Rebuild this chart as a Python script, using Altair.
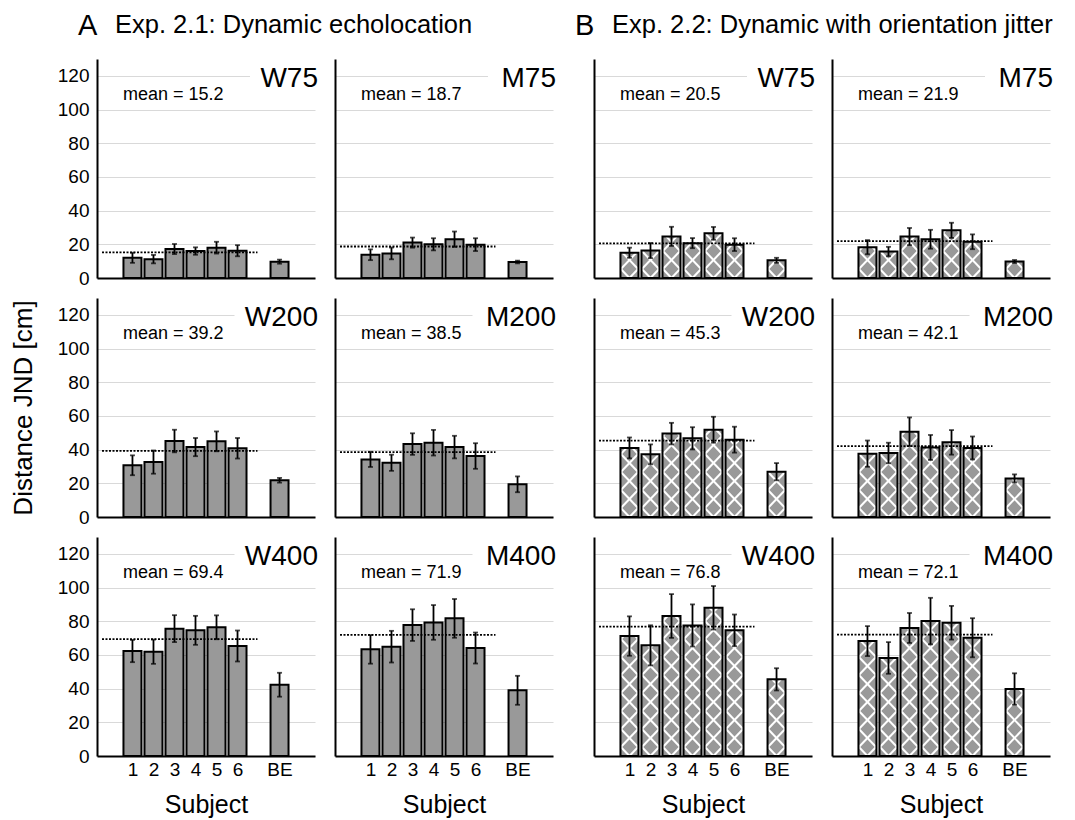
import altair as alt
import pandas as pd

# ---------------- data ----------------
subjects = ["1", "2", "3", "4", "5", "6", "BE"]
subject_pos = [1, 2, 3, 4, 5, 6, 8]

A_W75 = [12.0, 11.2, 17.2, 16.0, 18.0, 16.2, 9.7]
A_W75_err = [3.0, 2.5, 3.0, 2.2, 3.5, 3.3, 1.2]
A_M75 = [13.8, 14.6, 21.0, 20.0, 23.0, 19.8, 9.5]
A_M75_err = [3.2, 3.5, 3.0, 3.6, 4.6, 3.8, 0.8]
B_W75 = [15.0, 16.3, 24.7, 20.7, 26.5, 19.8, 10.5]
B_W75_err = [3.0, 4.5, 5.7, 3.0, 3.8, 3.8, 1.5]
B_M75 = [18.3, 15.7, 24.6, 23.0, 28.3, 21.5, 9.8]
B_M75_err = [4.2, 2.8, 5.1, 5.6, 4.5, 4.4, 0.9]

A_W200 = [30.7, 32.6, 45.1, 41.5, 44.9, 40.8, 21.8]
A_W200_err = [5.9, 6.9, 6.7, 5.4, 5.9, 6.1, 1.4]
A_M200 = [34.2, 32.2, 43.3, 44.1, 41.5, 36.2, 19.4]
A_M200_err = [4.5, 4.8, 6.4, 7.6, 6.7, 7.6, 4.7]
B_W200 = [41.0, 37.2, 49.5, 46.7, 51.8, 45.9, 26.9]
B_W200_err = [6.2, 5.9, 6.4, 6.6, 7.7, 7.7, 5.1]
B_M200 = [37.6, 38.0, 50.6, 41.3, 44.3, 41.0, 22.9]
B_M200_err = [7.8, 6.1, 8.5, 7.4, 7.3, 6.8, 2.4]

A_W400 = [62.3, 61.9, 75.6, 74.6, 76.4, 65.3, 42.3]
A_W400_err = [6.6, 7.2, 8.0, 8.6, 7.1, 9.2, 7.1]
A_M400 = [63.3, 64.9, 77.7, 79.3, 81.7, 64.1, 39.0]
A_M400_err = [8.5, 9.4, 9.4, 10.3, 11.5, 9.2, 8.6]
B_W400 = [71.2, 65.7, 83.1, 77.5, 88.0, 74.6, 45.5]
B_W400_err = [11.7, 11.9, 13.0, 12.5, 12.9, 9.4, 6.6]
B_M400 = [68.2, 58.2, 76.0, 80.1, 79.1, 70.2, 39.8]
B_M400_err = [8.9, 9.4, 8.9, 13.8, 10.0, 11.6, 9.3]

means_A = [15.2, 18.7, 39.2, 38.5, 69.4, 71.9]
means_B = [20.5, 21.9, 45.3, 42.1, 76.8, 72.1]
panel_labels = ["W75", "M75", "W200", "M200", "W400", "M400"]
y_ticks = [0, 20, 40, 60, 80, 100, 120]

# ---------------- layout / style ----------------
W, H = 218, 219
X_DOM = [-0.45, 9.45]
Y_DOM = [0, 130]
MEAN_END = 6.95
BAR_PX = 18
PX_X = W / (X_DOM[1] - X_DOM[0])
PX_Y = H / (Y_DOM[1] - Y_DOM[0])
FONT = "Liberation Sans"
BAR_FILL = "#999999"


def hatch_frame(vals):
    rows = []
    P = BAR_PX
    for p, v in zip(subject_pos, vals):
        h = v * PX_Y
        left = p - (BAR_PX / 2) / PX_X
        for k in range(-3, int(h / P) + 3):
            c = k * P - P / 2
            lo, hi = max(0.0, -c), min(BAR_PX, h - c)
            if hi - lo > 0.3:
                rows.append((left + lo / PX_X, (lo + c) / PX_Y, left + hi / PX_X, (hi + c) / PX_Y))
            c = k * P + P / 2
            lo, hi = max(0.0, c - h), min(BAR_PX, c)
            if hi - lo > 0.3:
                rows.append((left + lo / PX_X, (c - lo) / PX_Y, left + hi / PX_X, (c - hi) / PX_Y))
    return pd.DataFrame(rows, columns=["hx1", "hy1", "hx2", "hy2"])


def make_panel(vals, errs, mean, label, hatched, first_col, bottom, ytitle, top_texts):
    df = pd.DataFrame({
        "pos": subject_pos, "subject": subjects, "v": vals,
        "lo": [a - b for a, b in zip(vals, errs)],
        "hi": [a + b for a, b in zip(vals, errs)],
    })
    xs = alt.Scale(domain=X_DOM, nice=False, zero=False)
    ys = alt.Scale(domain=Y_DOM, nice=False, zero=False)
    if bottom:
        xaxis = alt.Axis(values=subject_pos, labelExpr="datum.value == 8 ? 'BE' : datum.value",
                         ticks=False, grid=False, labelPadding=4, labelFontSize=19,
                         title="Subject", titleFontSize=25, titleFontWeight="normal",
                         titlePadding=13, labelFlush=False)
    else:
        xaxis = alt.Axis(labels=False, ticks=False, grid=False, title=None)
    if first_col:
        yaxis = alt.Axis(values=y_ticks, ticks=False, labelPadding=8, labelFontSize=19,
                         title=("Distance JND [cm]" if ytitle else None),
                         titleFontSize=26, titleFontWeight="normal", titlePadding=21,
                         grid=True)
    else:
        yaxis = alt.Axis(values=y_ticks, ticks=False, labels=False, title=None, grid=True)

    base = alt.Chart(df)
    X = lambda f: alt.X(f, scale=xs, axis=xaxis)
    Y = lambda f: alt.Y(f, scale=ys, axis=yaxis)

    layers = []
    # white box behind panel label
    box_w = 24 + 15.5 * (len(label) - 1) + 10
    layers.append(alt.Chart(pd.DataFrame({"a": [0]})).mark_rect(color="white").encode(
        x=alt.value(W - box_w), x2=alt.value(W + 4), y=alt.value(2), y2=alt.value(32)))
    layers.append(base.mark_bar(size=BAR_PX, fill=BAR_FILL, stroke=None).encode(
        x=X("pos:Q"), y=Y("v:Q")))
    if hatched:
        hdf = hatch_frame(vals)
        layers.append(alt.Chart(hdf).mark_rule(color="white", strokeWidth=2).encode(
            x=X("hx1:Q"), x2="hx2:Q", y=Y("hy1:Q"), y2="hy2:Q"))
    layers.append(base.mark_bar(size=BAR_PX, fillOpacity=0, stroke="black", strokeWidth=2).encode(
        x=X("pos:Q"), y=Y("v:Q")))
    mdf = pd.DataFrame({"x0": [X_DOM[0]], "x1": [MEAN_END], "m": [mean]})
    layers.append(alt.Chart(mdf).mark_rule(color="black", strokeWidth=1.8, strokeDash=[2, 1.5]).encode(
        x=X("x0:Q"), x2="x1:Q", y=Y("m:Q")))
    layers.append(base.mark_rule(color="black", strokeWidth=1.8).encode(
        x=X("pos:Q"), y=Y("lo:Q"), y2="hi:Q"))
    layers.append(base.mark_tick(orient="horizontal", size=5, thickness=1.8, color="black").encode(
        x=X("pos:Q"), y=Y("lo:Q")))
    layers.append(base.mark_tick(orient="horizontal", size=5, thickness=1.8, color="black").encode(
        x=X("pos:Q"), y=Y("hi:Q")))
    tdf = pd.DataFrame({"a": [0]})
    layers.append(alt.Chart(tdf).mark_text(align="right", baseline="alphabetic", fontSize=28,
                                           font=FONT, color="black").encode(
        x=alt.value(W + 3), y=alt.value(28), text=alt.value(label)))
    layers.append(alt.Chart(tdf).mark_text(align="left", baseline="alphabetic", fontSize=18,
                                           font=FONT, color="black").encode(
        x=alt.value(26), y=alt.value(41), text=alt.value(f"mean = {mean}")))
    for (tx, ty, txt, fs) in top_texts:
        layers.append(alt.Chart(tdf).mark_text(align="left", baseline="alphabetic", fontSize=fs,
                                               font=FONT, color="black").encode(
            x=alt.value(tx), y=alt.value(ty), text=alt.value(txt)))
    return alt.layer(*layers).properties(width=W, height=H)


def spacer():
    return alt.Chart(pd.DataFrame({"a": [0]})).mark_point(opacity=0).encode(
        x=alt.X("a:Q", axis=None), y=alt.Y("a:Q", axis=None)).properties(width=1, height=H)


A_vals = [(A_W75, A_W75_err), (A_M75, A_M75_err), (A_W200, A_W200_err),
          (A_M200, A_M200_err), (A_W400, A_W400_err), (A_M400, A_M400_err)]
B_vals = [(B_W75, B_W75_err), (B_M75, B_M75_err), (B_W200, B_W200_err),
          (B_M200, B_M200_err), (B_W400, B_W400_err), (B_M400, B_M400_err)]

cells = []
for row in range(3):
    for exp, vals_list, means, hatched in (("A", A_vals, means_A, False), ("B", B_vals, means_B, True)):
        for col in range(2):
            i = row * 2 + col
            texts = []
            if row == 0 and col == 0:
                if exp == "A":
                    texts = [(-19, -24, "A", 29), (18, -26, "Exp. 2.1: Dynamic echolocation", 25.5)]
                else:
                    texts = [(-19, -24, "B", 29), (18, -26, "Exp. 2.2: Dynamic with orientation jitter", 25.5)]
            v, e = vals_list[i]
            cells.append(make_panel(v, e, means[i], panel_labels[i], hatched,
                                    first_col=(exp == "A" and col == 0), bottom=(row == 2),
                                    ytitle=(exp == "A" and col == 0 and row == 1),
                                    top_texts=texts))
        if exp == "A":
            cells.append(spacer())

chart = alt.concat(*cells, columns=5, spacing=20, bounds="flush").properties(
    padding={"left": 2, "top": 4, "right": 2, "bottom": 2}
).configure_view(stroke=None).configure_axis(
    domainColor="black", domainWidth=2, gridColor="#d9d9d9", gridWidth=1.2,
    labelColor="black", titleColor="black", labelFont=FONT, titleFont=FONT
)

chart.save("out.html", embed_options={"renderer": "svg", "actions": False})
